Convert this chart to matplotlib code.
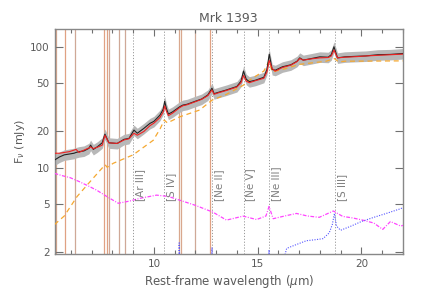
import numpy as np
import matplotlib
matplotlib.use('Agg')
import matplotlib.pyplot as plt
from matplotlib.ticker import FixedLocator, MultipleLocator, NullLocator

# Observed spectrum (black) and total model (red), same wavelength grid
wave = [5.21, 5.45, 5.68, 5.92, 6.15, 6.25, 6.39, 6.63, 6.87, 6.95, 7.08, 7.27, 7.51, 7.64,
        7.83, 8.23, 8.56, 8.80, 9.04, 9.2, 9.52, 9.81, 10.0, 10.29, 10.45, 10.52, 10.6,
        10.7, 10.9, 11.25, 11.4, 11.6, 12.0, 12.3, 12.6, 12.8, 12.9, 13.1, 13.5, 14.0,
        14.2, 14.32, 14.45, 14.6, 14.9, 15.3, 15.45, 15.56, 15.7, 15.85, 16.2, 16.6, 16.9,
        17.03, 17.2, 17.6, 18.0, 18.4, 18.55, 18.68, 18.85, 19.2, 19.8, 20.2, 20.8, 21.4,
        22.0]
flux = [11.6, 12.3, 12.8, 13.0, 13.2, 13.4, 13.6, 13.8, 14.5, 15.4, 14.2, 14.9, 16.1, 19.0,
        16.1, 15.9, 17.2, 17.5, 20.5, 19.3, 21.2, 23.3, 24.2, 27.2, 30.5, 35.5, 31.0,
        27.8, 29.0, 32.0, 33.0, 33.5, 35.5, 37.0, 40.0, 45.5, 41.0, 42.0, 44.0, 47.0,
        52.0, 63.0, 54.0, 51.5, 53.0, 56.0, 65.0, 87.0, 65.0, 64.0, 68.4, 71.0, 76.0,
        81.0, 77.6, 80.0, 82.6, 82.0, 86.0, 100.0, 81.0, 82.6, 83.5, 84.0, 86.0, 86.5,
        88.0]
model = [13.2, 13.2, 13.4, 13.6, 14.0, 14.2, 13.4, 14.0, 14.6, 14.9, 14.4, 14.8, 15.4, 18.6,
         16.1, 15.9, 17.0, 17.4, 19.3, 18.6, 20.0, 22.3, 23.4, 26.0, 29.0, 32.5, 29.5,
         27.0, 28.3, 31.5, 32.6, 33.2, 35.2, 36.8, 39.5, 44.0, 40.5, 41.6, 43.6, 46.5,
         50.5, 58.0, 52.0, 50.5, 52.5, 55.0, 62.0, 77.0, 66.0, 63.0, 67.5, 70.5, 75.5,
         80.0, 77.6, 79.5, 81.0, 81.5, 84.0, 94.0, 81.0, 82.0, 83.0, 84.0, 85.0, 86.0,
         87.0]

# Model components
cont_wave = [5.21, 5.68, 6.3, 6.84, 7.4, 7.65, 7.75, 8.04, 9.0, 9.97, 10.3, 10.5, 10.65,
             11.25, 12.2, 12.8, 13.5, 14.3, 14.6, 15.3, 15.55, 15.7, 16.2, 17.0, 18.3, 18.7,
             18.9, 19.2, 20.5, 21.9, 22.0]
cont_flux = [3.4, 4.0, 5.8, 7.4, 9.5, 10.6, 10.1, 10.9, 12.8, 16.9, 21.0, 24.8, 23.5,
             26.4, 30.0, 36.2, 40.5, 48.0, 53.0, 63.0, 76.0, 62.0, 65.0, 71.5, 76.0, 80.0,
             75.0, 76.0, 76.2, 76.5, 76.5]

agn_wave = [5.21, 5.6, 5.96, 6.4, 6.9, 7.24, 7.8, 8.28, 8.8, 9.33, 10.13, 10.7, 11.25, 12.0,
            12.85, 13.5, 14.3, 14.95, 15.4, 15.55, 15.75, 16.3, 16.87, 17.4, 17.97, 18.65,
            19.1, 19.6, 20.06, 20.6, 21.03, 21.4, 21.9, 22.0]
agn_flux = [9.0, 8.6, 8.3, 7.7, 7.0, 6.54, 5.7, 5.1, 5.3, 5.6, 5.95, 5.8, 5.4, 4.9,
            4.3, 3.7, 3.99, 3.74, 4.0, 4.79, 3.8, 4.0, 4.2, 4.0, 3.9, 4.4,
            3.97, 3.85, 3.7, 3.5, 3.1, 3.6, 3.3, 3.35]

hot_wave = [5.2, 11.1, 11.22, 11.35, 12.65, 12.8, 12.95, 15.4, 15.55, 15.7, 16.0, 16.4, 16.8,
            17.35, 17.8, 18.15, 18.45, 18.6, 18.7, 18.8, 19.0, 19.5, 20.0, 20.6, 21.2, 21.9,
            22.0]
hot_flux = [0.5, 0.5, 2.4, 0.5, 0.5, 2.2, 0.5, 0.5, 2.1, 0.5, 1.2, 2.16, 2.3, 2.5, 2.55,
            2.6, 2.9, 3.4, 4.2, 3.3, 3.05, 3.3, 3.6, 3.9, 4.2, 4.6, 4.7]

# PAH features (solid) and fine-structure lines (dotted)
pah_lines = [5.27, 5.70, 6.22, 7.60, 7.72, 7.85, 8.33, 8.61, 11.23, 11.30, 11.99, 12.71]
pah_colors = ['#d9a88e', '#e0a183', '#cfa897', '#e0a183', '#e0a183', '#cfa897',
              '#cfa897', '#cfa897', '#d9a88e', '#d9a88e', '#cfa897', '#e0a183']
ion_lines = [8.99, 10.51, 12.81, 14.32, 15.56, 18.71]
ion_labels = ['[Ar III]', '[S IV]', '[Ne II]', '[Ne V]', '[Ne III]', '[S III]']

grey = '#707070'
txt = '#5a5a5a'

fig = plt.figure(figsize=(4.36, 2.91), dpi=100)
ax = fig.add_axes([0.125, 0.127, 0.799, 0.773])

for lam, c in zip(pah_lines, pah_colors):
    ax.axvline(lam, color=c, lw=0.9, zorder=1)
for lam in ion_lines:
    ax.axvline(lam, color='#999999', lw=0.7, ls=(0, (1.2, 1.8)), zorder=1)

# uncertainty band around the data
fl = np.array(flux)
ax.fill_between(wave, fl * 0.9, fl * 1.1, color='#b8b8b8', lw=0, zorder=2)

ax.plot(cont_wave, cont_flux, color='#f5a830', lw=0.9, ls=(0, (4, 3)), zorder=3)
ax.plot(agn_wave, agn_flux, color='#ff44ff', lw=0.9, ls=(0, (3, 1.2, 0.8, 1.2)), zorder=3)
ax.plot(hot_wave, hot_flux, color='#5555ff', lw=0.8, ls=(0, (1, 1.3)), zorder=3)
ax.plot(wave, flux, color='#222222', lw=0.8, zorder=4)
ax.plot(wave, model, color='#ee2222', lw=0.8, zorder=5)

for lam, lab in zip(ion_lines, ion_labels):
    ax.text(lam + 0.1, 5.3, lab, rotation=90, ha='left', va='bottom',
            fontsize=7.5, color='#808080', zorder=6)

ax.set_yscale('log')
ax.set_xlim(5.21, 22.0)
ax.set_ylim(1.94, 140)

ax.yaxis.set_major_locator(FixedLocator([2, 5, 10, 20, 50, 100]))
ax.yaxis.set_minor_locator(NullLocator())
ax.set_yticklabels(['2', '5', '10', '20', '50', '100'])
ax.xaxis.set_major_locator(FixedLocator([10, 15, 20]))
ax.xaxis.set_minor_locator(MultipleLocator(1))

ax.tick_params(which='both', direction='in', top=True, right=True, colors=grey,
               labelsize=7.5, labelcolor=txt)
ax.tick_params(which='major', length=5, width=0.8)
ax.tick_params(which='minor', length=3, width=0.8)
ax.tick_params(axis='y', which='major', length=6)
for sp in ax.spines.values():
    sp.set_color('#888888')
    sp.set_linewidth(1.0)

ax.set_title('Mrk 1393', fontsize=9, color=txt, pad=5)
ax.set_xlabel('Rest-frame wavelength ($\\mu$m)', fontsize=8.5, color=txt, labelpad=3)
ax.set_ylabel('F$_\\nu$ (mJy)', fontsize=8, color=txt)
ax.yaxis.set_label_coords(-0.08, 0.5)

fig.savefig('out.png', dpi=100)
